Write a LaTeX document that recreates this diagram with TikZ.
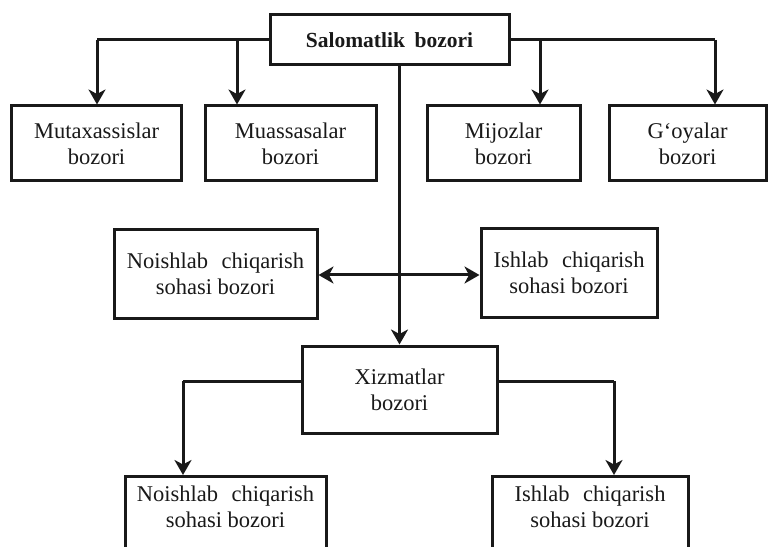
\documentclass[tikz,border=0pt]{standalone}
\usepackage{fontspec}
\setmainfont{Liberation Serif}
\usetikzlibrary{arrows.meta}
\begin{document}
\begin{tikzpicture}[x=1bp,y=-1bp,
  line width=3bp,
  txt/.style={text=black!90, font=\fontsize{22.5bp}{26bp}\selectfont},
  box/.style={draw=black!90, line width=3bp, align=center, inner sep=0pt, txt},
  lbl/.style={align=center, inner sep=0pt, txt},
  tip/.tip={Stealth[length=15bp,width=17bp,inset=4.5bp]},
  arr/.style={-tip, draw=black!90},
  arr2/.style={tip-tip, draw=black!90},
  ln/.style={draw=black!90}]
\useasboundingbox (0,0) rectangle (769,547);
\clip (0,0) rectangle (769,547);
\fill[white] (0,0) rectangle (769,547);
% top
\node[box, minimum width=239bp, minimum height=50bp, font=\fontsize{21.5bp}{26bp}\selectfont\bfseries] (top) at (389.5,40) {Salomatlik\hspace{0.2em} bozori};
% row 1
\node[box, minimum width=169bp, minimum height=75bp] (muta) at (96.5,143.5) {Mutaxassislar\\bozori};
\node[box, minimum width=171bp, minimum height=75bp] (mua) at (290.5,143.5) {Muassasalar\\bozori};
\node[box, minimum width=153bp, minimum height=75bp] (mij) at (503.5,143.5) {Mijozlar\\bozori};
\node[box, minimum width=157bp, minimum height=75bp] (goy) at (687.5,143.5) {G‘oyalar\\bozori};
% row 2
\node[box, minimum width=203bp, minimum height=89bp] (noish) at (215.5,274) {Noishlab\hspace{0.35em} chiqarish\\sohasi bozori};
\node[box, minimum width=176bp, minimum height=88bp] (ishl) at (569,273) {Ishlab\hspace{0.35em} chiqarish\\sohasi bozori};
% row 3
\node[box, minimum width=195bp, minimum height=87bp] (xiz) at (399.5,389.5) {Xizmatlar\\bozori};
% row 4 (boxes cut off at the bottom)
\node[draw=black!90, line width=3bp, inner sep=0pt, minimum width=201bp, minimum height=100bp, anchor=north] (bl) at (225.5,475) {};
\node[lbl] (bltext) at (225.5,507) {Noishlab\hspace{0.35em} chiqarish\\sohasi bozori};
\node[draw=black!90, line width=3bp, inner sep=0pt, minimum width=196bp, minimum height=100bp, anchor=north] (br) at (590,475) {};
\node[lbl] (brtext) at (590,507) {Ishlab\hspace{0.35em} chiqarish\\sohasi bozori};
% branch coordinates
\coordinate (bl1) at (97,40);
\coordinate (bl2) at (237,40);
\coordinate (br1) at (540,40);
\coordinate (br2) at (715,40);
\coordinate (xl) at (183,381);
\coordinate (xr) at (614,381);
% connectors top
\draw[ln] (top.west |- bl1) -- (bl1);
\draw[ln] (top.east |- br1) -- (br2);
\draw[arr] (bl1) -- (bl1 |- muta.north);
\draw[arr] (bl2) -- (bl2 |- mua.north);
\draw[arr] (br1) -- (br1 |- mij.north);
\draw[arr] (br2) -- (br2 |- goy.north);
% vertical main line
\draw[arr] (top.south -| xiz.north) -- (xiz.north);
% double arrow
\draw[arr2] (noish.east |- 0,275) -- (ishl.west |- 0,275);
% lower branches
\draw[ln] (xiz.west |- xl) -- (xl);
\draw[arr] (xl) -- (xl |- bl.north);
\draw[ln] (xiz.east |- xr) -- (xr);
\draw[arr] (xr) -- (xr |- br.north);
\end{tikzpicture}
\end{document}
